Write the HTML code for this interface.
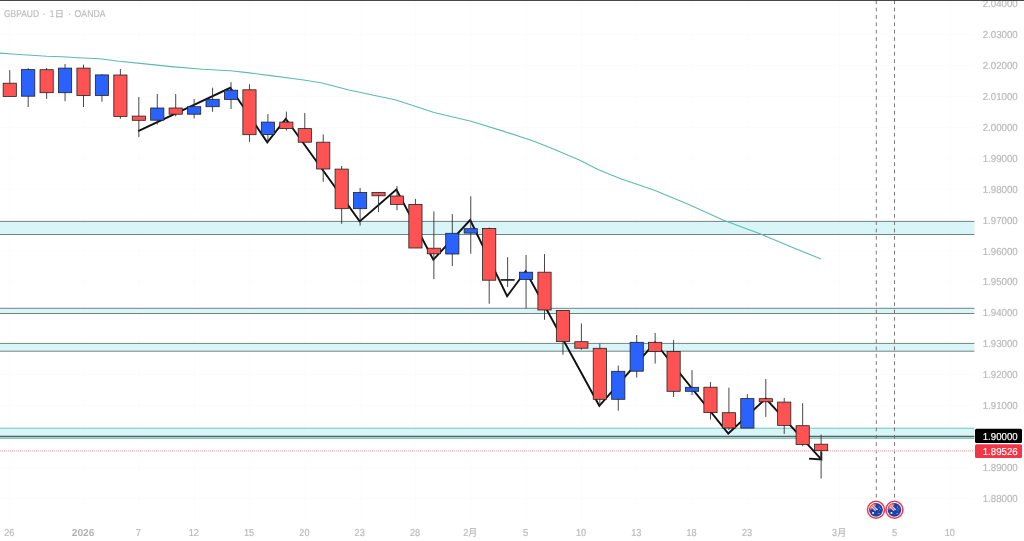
<!DOCTYPE html>
<html lang="ja"><head><meta charset="utf-8"><title>GBPAUD</title>
<style>html,body{margin:0;padding:0;background:#fff;overflow:hidden}svg{display:block}text{font-family:"Liberation Sans","Noto Sans CJK JP",sans-serif;text-rendering:geometricPrecision}</style></head><body>
<svg width="1024" height="541" viewBox="0 0 1024 541">
<rect width="1024" height="541" fill="#fff"/>
<g stroke="#fcfcfc" stroke-width="1">
<line x1="9.8" y1="1" x2="9.8" y2="520"/>
<line x1="83.5" y1="1" x2="83.5" y2="520"/>
<line x1="138.8" y1="1" x2="138.8" y2="520"/>
<line x1="194.2" y1="1" x2="194.2" y2="520"/>
<line x1="249.5" y1="1" x2="249.5" y2="520"/>
<line x1="304.8" y1="1" x2="304.8" y2="520"/>
<line x1="360.1" y1="1" x2="360.1" y2="520"/>
<line x1="415.4" y1="1" x2="415.4" y2="520"/>
<line x1="470.8" y1="1" x2="470.8" y2="520"/>
<line x1="526.1" y1="1" x2="526.1" y2="520"/>
<line x1="581.4" y1="1" x2="581.4" y2="520"/>
<line x1="636.7" y1="1" x2="636.7" y2="520"/>
<line x1="692.0" y1="1" x2="692.0" y2="520"/>
<line x1="747.4" y1="1" x2="747.4" y2="520"/>
<line x1="839.6" y1="1" x2="839.6" y2="520"/>
<line x1="894.9" y1="1" x2="894.9" y2="520"/>
<line x1="950.2" y1="1" x2="950.2" y2="520"/>
<line x1="0" y1="3.6" x2="974.4" y2="3.6"/>
<line x1="0" y1="34.5" x2="974.4" y2="34.5"/>
<line x1="0" y1="65.4" x2="974.4" y2="65.4"/>
<line x1="0" y1="96.4" x2="974.4" y2="96.4"/>
<line x1="0" y1="127.3" x2="974.4" y2="127.3"/>
<line x1="0" y1="158.2" x2="974.4" y2="158.2"/>
<line x1="0" y1="189.1" x2="974.4" y2="189.1"/>
<line x1="0" y1="220.0" x2="974.4" y2="220.0"/>
<line x1="0" y1="250.9" x2="974.4" y2="250.9"/>
<line x1="0" y1="281.8" x2="974.4" y2="281.8"/>
<line x1="0" y1="312.7" x2="974.4" y2="312.7"/>
<line x1="0" y1="343.6" x2="974.4" y2="343.6"/>
<line x1="0" y1="374.5" x2="974.4" y2="374.5"/>
<line x1="0" y1="405.5" x2="974.4" y2="405.5"/>
<line x1="0" y1="436.4" x2="974.4" y2="436.4"/>
<line x1="0" y1="467.3" x2="974.4" y2="467.3"/>
<line x1="0" y1="498.2" x2="974.4" y2="498.2"/>
</g>
<rect x="-2" y="221.4" width="976.4" height="13.1" fill="#d8f5f8"/>
<line x1="0" y1="221.4" x2="974.4" y2="221.4" stroke="#758282" stroke-width="1"/>
<line x1="0" y1="234.5" x2="974.4" y2="234.5" stroke="#758282" stroke-width="1"/>
<rect x="-2" y="308.3" width="976.4" height="5.2" fill="#d8f5f8"/>
<line x1="0" y1="308.3" x2="974.4" y2="308.3" stroke="#758282" stroke-width="1"/>
<line x1="0" y1="313.5" x2="974.4" y2="313.5" stroke="#758282" stroke-width="1"/>
<rect x="-2" y="343.4" width="976.4" height="7.8" fill="#d8f5f8"/>
<line x1="0" y1="343.4" x2="974.4" y2="343.4" stroke="#758282" stroke-width="1"/>
<line x1="0" y1="351.2" x2="974.4" y2="351.2" stroke="#758282" stroke-width="1"/>
<rect x="-2" y="428.2" width="976.4" height="10.2" fill="#d8f5f8"/>
<line x1="0" y1="428.2" x2="974.4" y2="428.2" stroke="#70c9bd" stroke-width="1"/>
<line x1="0" y1="438.4" x2="974.4" y2="438.4" stroke="#70c9bd" stroke-width="1"/>
<line x1="0" y1="436.5" x2="974.4" y2="436.5" stroke="#586262" stroke-width="1.4"/>
<line x1="876.3" y1="0.3" x2="876.3" y2="498" stroke="#6a6a6a" stroke-width="0.9" stroke-dasharray="3.75 3.616"/>
<line x1="894.5" y1="0.3" x2="894.5" y2="498" stroke="#6a6a6a" stroke-width="0.9" stroke-dasharray="3.75 3.616"/>
<line x1="0" y1="450.7" x2="974.4" y2="450.7" stroke="#fabcc1" stroke-width="1.4" stroke-dasharray="1 1"/>
<polyline fill="none" stroke="#5dbcab" stroke-width="1.1" stroke-linejoin="round" points="-2,53.0 15.6,54.3 31.3,55.25 46.9,56.2 62.5,56.8 78.1,57.75 100,58.8 118.8,61.2 140.3,63.4 171.3,66.6 202.5,69.3 230.6,70.8 249.4,72.9 271,75.6 302,79.7 321,82.8 349,90 396,100 434,112.5 471,121.3 505.6,131.9 534,141.3 551,148.1 579.4,160 598,169.4 620,178.4 654.4,190.3 688.8,204.4 723,220 760.6,234 792,247.2 821,259"/>
<polyline fill="none" stroke="#111" stroke-width="1.9" stroke-linejoin="miter" points="138.2,131.1 230.3,87.8 267.3,142.3 285.8,118.8 359.7,221.4 396.4,189.6 433.3,259.7 470.2,220 507.1,296.2 525.7,271.2 599.3,405.8 655,342.5 728.3,433.5 765.8,398.6 821.1,459.2"/>
<polyline fill="none" stroke="#111" stroke-width="1.9" points="809,458.6 821.3,459.4 821.3,451.5"/>
<g stroke="#222" stroke-width="0.8">
<line x1="9.75" y1="70.2" x2="9.75" y2="96.4" stroke="#333" stroke-width="0.9"/>
<rect x="3.15" y="83.2" width="13.2" height="13.2" fill="#ff5252"/>
<line x1="28.19" y1="68.1" x2="28.19" y2="107" stroke="#333" stroke-width="0.9"/>
<rect x="21.59" y="69.6" width="13.2" height="26.6" fill="#2962ff"/>
<line x1="46.63" y1="68.1" x2="46.63" y2="98.9" stroke="#333" stroke-width="0.9"/>
<rect x="40.03" y="69.7" width="13.2" height="23.0" fill="#ff5252"/>
<line x1="65.07" y1="64" x2="65.07" y2="101.2" stroke="#333" stroke-width="0.9"/>
<rect x="58.47" y="68.1" width="13.2" height="24.6" fill="#2962ff"/>
<line x1="83.51" y1="64.6" x2="83.51" y2="107" stroke="#333" stroke-width="0.9"/>
<rect x="76.91" y="68.1" width="13.2" height="27.4" fill="#ff5252"/>
<line x1="101.95" y1="74.1" x2="101.95" y2="101.7" stroke="#333" stroke-width="0.9"/>
<rect x="95.35" y="74.9" width="13.2" height="20.6" fill="#2962ff"/>
<line x1="120.39" y1="69" x2="120.39" y2="118.8" stroke="#333" stroke-width="0.9"/>
<rect x="113.79" y="75" width="13.2" height="41.4" fill="#ff5252"/>
<line x1="138.83" y1="97" x2="138.83" y2="137.1" stroke="#333" stroke-width="0.9"/>
<rect x="132.23" y="116.1" width="13.2" height="4.2" fill="#ff5252"/>
<line x1="157.27" y1="94" x2="157.27" y2="124.5" stroke="#333" stroke-width="0.9"/>
<rect x="150.67" y="108" width="13.2" height="12.2" fill="#2962ff"/>
<line x1="175.71" y1="94" x2="175.71" y2="116.3" stroke="#333" stroke-width="0.9"/>
<rect x="169.11" y="108" width="13.2" height="6.2" fill="#ff5252"/>
<line x1="194.15" y1="98.9" x2="194.15" y2="118.4" stroke="#333" stroke-width="0.9"/>
<rect x="187.55" y="106.7" width="13.2" height="7.5" fill="#2962ff"/>
<line x1="212.59" y1="87.7" x2="212.59" y2="111.8" stroke="#333" stroke-width="0.9"/>
<rect x="205.99" y="99.3" width="13.2" height="7.4" fill="#2962ff"/>
<line x1="231.03" y1="82.2" x2="231.03" y2="109" stroke="#333" stroke-width="0.9"/>
<rect x="224.43" y="90.2" width="13.2" height="9.2" fill="#2962ff"/>
<line x1="249.47" y1="84.2" x2="249.47" y2="141.8" stroke="#333" stroke-width="0.9"/>
<rect x="242.87" y="89.8" width="13.2" height="44.9" fill="#ff5252"/>
<line x1="267.91" y1="114" x2="267.91" y2="142.3" stroke="#333" stroke-width="0.9"/>
<rect x="261.31" y="122.1" width="13.2" height="12.5" fill="#2962ff"/>
<line x1="286.35" y1="111.6" x2="286.35" y2="130.5" stroke="#333" stroke-width="0.9"/>
<rect x="279.75" y="122.1" width="13.2" height="6.5" fill="#ff5252"/>
<line x1="304.79" y1="113" x2="304.79" y2="142.2" stroke="#333" stroke-width="0.9"/>
<rect x="298.19" y="128.6" width="13.2" height="13.6" fill="#ff5252"/>
<line x1="323.23" y1="134.4" x2="323.23" y2="181.8" stroke="#333" stroke-width="0.9"/>
<rect x="316.63" y="142.2" width="13.2" height="26.8" fill="#ff5252"/>
<line x1="341.67" y1="166" x2="341.67" y2="223.75" stroke="#333" stroke-width="0.9"/>
<rect x="335.07" y="169.1" width="13.2" height="39.6" fill="#ff5252"/>
<line x1="360.11" y1="188" x2="360.11" y2="225.7" stroke="#333" stroke-width="0.9"/>
<rect x="353.51" y="192.5" width="13.2" height="16.2" fill="#2962ff"/>
<line x1="378.55" y1="192.5" x2="378.55" y2="212" stroke="#333" stroke-width="0.9"/>
<rect x="371.95" y="192.5" width="13.2" height="3.3" fill="#ff5252"/>
<line x1="396.99" y1="186" x2="396.99" y2="210.2" stroke="#333" stroke-width="0.9"/>
<rect x="390.39" y="196" width="13.2" height="8.4" fill="#ff5252"/>
<line x1="415.43" y1="198.9" x2="415.43" y2="248" stroke="#333" stroke-width="0.9"/>
<rect x="408.83" y="204.4" width="13.2" height="43.6" fill="#ff5252"/>
<line x1="433.87" y1="211.4" x2="433.87" y2="279" stroke="#333" stroke-width="0.9"/>
<rect x="427.27" y="248.2" width="13.2" height="5.6" fill="#ff5252"/>
<line x1="452.31" y1="214.1" x2="452.31" y2="266" stroke="#333" stroke-width="0.9"/>
<rect x="445.71" y="233.3" width="13.2" height="20.7" fill="#2962ff"/>
<line x1="470.75" y1="196.3" x2="470.75" y2="253.8" stroke="#333" stroke-width="0.9"/>
<rect x="464.15" y="228.7" width="13.2" height="4.4" fill="#2962ff"/>
<line x1="489.19" y1="227.5" x2="489.19" y2="303.7" stroke="#333" stroke-width="0.9"/>
<rect x="482.59" y="228.4" width="13.2" height="51.8" fill="#ff5252"/>
<line x1="507.63" y1="257.2" x2="507.63" y2="287" stroke="#333" stroke-width="0.9"/>
<rect x="501.03" y="279.4" width="13.2" height="0.9" fill="#222"/>
<line x1="526.07" y1="254.9" x2="526.07" y2="308.4" stroke="#333" stroke-width="0.9"/>
<rect x="519.47" y="272.2" width="13.2" height="7.2" fill="#2962ff"/>
<line x1="544.51" y1="254.1" x2="544.51" y2="319.8" stroke="#333" stroke-width="0.9"/>
<rect x="537.91" y="272.2" width="13.2" height="37.8" fill="#ff5252"/>
<line x1="562.95" y1="310.4" x2="562.95" y2="354.7" stroke="#333" stroke-width="0.9"/>
<rect x="556.35" y="310.4" width="13.2" height="31.2" fill="#ff5252"/>
<line x1="581.39" y1="323.4" x2="581.39" y2="349.8" stroke="#333" stroke-width="0.9"/>
<rect x="574.79" y="341.7" width="13.2" height="6.5" fill="#ff5252"/>
<line x1="599.83" y1="343.6" x2="599.83" y2="405.5" stroke="#333" stroke-width="0.9"/>
<rect x="593.23" y="348.3" width="13.2" height="51.0" fill="#ff5252"/>
<line x1="618.27" y1="365.6" x2="618.27" y2="410.7" stroke="#333" stroke-width="0.9"/>
<rect x="611.67" y="371.3" width="13.2" height="28.0" fill="#2962ff"/>
<line x1="636.71" y1="335" x2="636.71" y2="377.5" stroke="#333" stroke-width="0.9"/>
<rect x="630.11" y="342.3" width="13.2" height="28.9" fill="#2962ff"/>
<line x1="655.15" y1="332.9" x2="655.15" y2="363.6" stroke="#333" stroke-width="0.9"/>
<rect x="648.55" y="342.3" width="13.2" height="9.2" fill="#ff5252"/>
<line x1="673.59" y1="340.1" x2="673.59" y2="397" stroke="#333" stroke-width="0.9"/>
<rect x="666.99" y="351.5" width="13.2" height="39.8" fill="#ff5252"/>
<line x1="692.03" y1="370.1" x2="692.03" y2="395" stroke="#333" stroke-width="0.9"/>
<rect x="685.43" y="387.3" width="13.2" height="4.0" fill="#2962ff"/>
<line x1="710.47" y1="382.1" x2="710.47" y2="419.6" stroke="#333" stroke-width="0.9"/>
<rect x="703.87" y="387.2" width="13.2" height="25.4" fill="#ff5252"/>
<line x1="728.91" y1="387.6" x2="728.91" y2="430" stroke="#333" stroke-width="0.9"/>
<rect x="722.31" y="412.7" width="13.2" height="15.3" fill="#ff5252"/>
<line x1="747.35" y1="394.2" x2="747.35" y2="428.1" stroke="#333" stroke-width="0.9"/>
<rect x="740.75" y="398.6" width="13.2" height="29.5" fill="#2962ff"/>
<line x1="765.79" y1="379" x2="765.79" y2="416.9" stroke="#333" stroke-width="0.9"/>
<rect x="759.19" y="398.7" width="13.2" height="3.1" fill="#ff5252"/>
<line x1="784.23" y1="397.9" x2="784.23" y2="433.9" stroke="#333" stroke-width="0.9"/>
<rect x="777.63" y="402.1" width="13.2" height="23.3" fill="#ff5252"/>
<line x1="802.67" y1="403.2" x2="802.67" y2="446.2" stroke="#333" stroke-width="0.9"/>
<rect x="796.07" y="425.7" width="13.2" height="18.7" fill="#ff5252"/>
<line x1="821.11" y1="434.6" x2="821.11" y2="478.5" stroke="#333" stroke-width="0.9"/>
<rect x="814.51" y="444.2" width="13.2" height="6.5" fill="#ff5252"/>
</g>
<g font-size="10.1" fill="#bababa" stroke="#bababa" stroke-width="0.2" text-anchor="start">
<text x="982.7" y="7.2" textLength="35" lengthAdjust="spacingAndGlyphs">2.04000</text>
<text x="982.7" y="38.1" textLength="35" lengthAdjust="spacingAndGlyphs">2.03000</text>
<text x="982.7" y="69.0" textLength="35" lengthAdjust="spacingAndGlyphs">2.02000</text>
<text x="982.7" y="100.0" textLength="35" lengthAdjust="spacingAndGlyphs">2.01000</text>
<text x="982.7" y="130.9" textLength="35" lengthAdjust="spacingAndGlyphs">2.00000</text>
<text x="982.7" y="161.8" textLength="35" lengthAdjust="spacingAndGlyphs">1.99000</text>
<text x="982.7" y="192.7" textLength="35" lengthAdjust="spacingAndGlyphs">1.98000</text>
<text x="982.7" y="223.6" textLength="35" lengthAdjust="spacingAndGlyphs">1.97000</text>
<text x="982.7" y="254.5" textLength="35" lengthAdjust="spacingAndGlyphs">1.96000</text>
<text x="982.7" y="285.4" textLength="35" lengthAdjust="spacingAndGlyphs">1.95000</text>
<text x="982.7" y="316.3" textLength="35" lengthAdjust="spacingAndGlyphs">1.94000</text>
<text x="982.7" y="347.2" textLength="35" lengthAdjust="spacingAndGlyphs">1.93000</text>
<text x="982.7" y="378.2" textLength="35" lengthAdjust="spacingAndGlyphs">1.92000</text>
<text x="982.7" y="409.1" textLength="35" lengthAdjust="spacingAndGlyphs">1.91000</text>
<text x="982.7" y="440.0" textLength="35" lengthAdjust="spacingAndGlyphs">1.90000</text>
<text x="982.7" y="470.9" textLength="35" lengthAdjust="spacingAndGlyphs">1.89000</text>
<text x="982.7" y="501.8" textLength="35" lengthAdjust="spacingAndGlyphs">1.88000</text>
</g>
<rect x="975" y="428.8" width="47" height="14.2" rx="1.5" fill="#000"/>
<rect x="975" y="444.3" width="47" height="13.6" rx="1.5" fill="#f23645"/>
<g font-size="10.1" fill="#fff" stroke="#fff" stroke-width="0.15"><text x="982.7" y="439.7" textLength="35" lengthAdjust="spacingAndGlyphs">1.90000</text><text x="982.7" y="454.6" textLength="35" lengthAdjust="spacingAndGlyphs">1.89526</text></g>
<g font-size="10.1" fill="#bababa" stroke="#bababa" stroke-width="0.2">
<text x="4.2" y="536.4" textLength="10.2" lengthAdjust="spacingAndGlyphs">26</text>
<text x="71.8" y="536.4" textLength="22.6" lengthAdjust="spacingAndGlyphs" font-weight="bold" fill="#b2b2b2" stroke="none">2026</text>
<text x="135.8" y="536.4" textLength="5.2" lengthAdjust="spacingAndGlyphs">7</text>
<text x="188.7" y="536.4" textLength="10.2" lengthAdjust="spacingAndGlyphs">12</text>
<text x="244.0" y="536.4" textLength="10.2" lengthAdjust="spacingAndGlyphs">15</text>
<text x="299.3" y="536.4" textLength="10.2" lengthAdjust="spacingAndGlyphs">20</text>
<text x="354.6" y="536.4" textLength="10.2" lengthAdjust="spacingAndGlyphs">23</text>
<text x="409.9" y="536.4" textLength="10.2" lengthAdjust="spacingAndGlyphs">28</text>
<text x="463.3" y="536.4" textLength="14.1" lengthAdjust="spacingAndGlyphs">2月</text>
<text x="523.1" y="536.4" textLength="5.2" lengthAdjust="spacingAndGlyphs">5</text>
<text x="575.9" y="536.4" textLength="10.2" lengthAdjust="spacingAndGlyphs">10</text>
<text x="631.2" y="536.4" textLength="10.2" lengthAdjust="spacingAndGlyphs">13</text>
<text x="686.5" y="536.4" textLength="10.2" lengthAdjust="spacingAndGlyphs">18</text>
<text x="741.9" y="536.4" textLength="10.2" lengthAdjust="spacingAndGlyphs">23</text>
<text x="832.1" y="536.4" textLength="14.1" lengthAdjust="spacingAndGlyphs">3月</text>
<text x="891.9" y="536.4" textLength="5.2" lengthAdjust="spacingAndGlyphs">5</text>
<text x="944.7" y="536.4" textLength="10.2" lengthAdjust="spacingAndGlyphs">10</text>
</g>
<g font-size="9.8" fill="#bdbdbd" stroke="#bdbdbd" stroke-width="0.2"><text x="4" y="17" textLength="35" lengthAdjust="spacingAndGlyphs">GBPAUD</text><text x="42.3" y="17">·</text><text x="49.8" y="17" textLength="4.6" lengthAdjust="spacingAndGlyphs">1</text><text x="54.8" y="16.7" font-size="9" textLength="9.2" lengthAdjust="spacingAndGlyphs">日</text><text x="67.9" y="17">·</text><text x="74.6" y="17" textLength="31" lengthAdjust="spacingAndGlyphs">OANDA</text></g>
<g transform="translate(876,509.8)"><circle r="9.4" fill="#fff"/><circle r="8.5" fill="none" stroke="#f23645" stroke-width="1.5"/><circle r="6.9" fill="#1c43a6"/><path d="M-6.1,-0.2 L-6.1,-3 L-3,-6.1 L-0.2,-6.1 L-0.2,-3.9 L-3.9,-3.9 L-3.9,-0.2 Z" fill="#f7626d"/><path d="M-3.9,-3.9 L0.2,0.2" stroke="#fff" stroke-width="2.8" fill="none"/><path d="M-3.6,-3.6 L0,0" stroke="#f23645" stroke-width="1.1" fill="none"/><rect x="-3.8" y="2.3" width="1.7" height="1.7" fill="#fff"/><circle cx="1.3" cy="-0.3" r="0.6" fill="#fff"/><circle cx="3.1" cy="-2.7" r="0.55" fill="#9db3ea"/><circle cx="4.5" cy="-1.1" r="0.5" fill="#9db3ea"/><circle cx="3.5" cy="0.9" r="0.45" fill="#9db3ea"/><circle cx="2.9" cy="3.7" r="0.6" fill="#c9d5f5"/></g>
<g transform="translate(894.4,509.8)"><circle r="9.4" fill="#fff"/><circle r="8.5" fill="none" stroke="#f23645" stroke-width="1.5"/><circle r="6.9" fill="#1c43a6"/><path d="M-6.1,-0.2 L-6.1,-3 L-3,-6.1 L-0.2,-6.1 L-0.2,-3.9 L-3.9,-3.9 L-3.9,-0.2 Z" fill="#f7626d"/><path d="M-3.9,-3.9 L0.2,0.2" stroke="#fff" stroke-width="2.8" fill="none"/><path d="M-3.6,-3.6 L0,0" stroke="#f23645" stroke-width="1.1" fill="none"/><rect x="-3.8" y="2.3" width="1.7" height="1.7" fill="#fff"/><circle cx="1.3" cy="-0.3" r="0.6" fill="#fff"/><circle cx="3.1" cy="-2.7" r="0.55" fill="#9db3ea"/><circle cx="4.5" cy="-1.1" r="0.5" fill="#9db3ea"/><circle cx="3.5" cy="0.9" r="0.45" fill="#9db3ea"/><circle cx="2.9" cy="3.7" r="0.6" fill="#c9d5f5"/></g>
<rect x="0" y="0" width="1024" height="0.9" fill="#333"/>
</svg></body></html>
